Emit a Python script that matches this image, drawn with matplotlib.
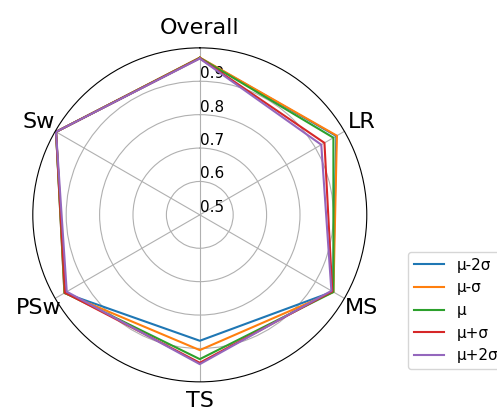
import numpy as np
import matplotlib
matplotlib.use("Agg")
import matplotlib.pyplot as plt

categories = ["Overall", "LR", "MS", "TS", "PSw", "Sw"]
series_names = ["μ-2σ", "μ-σ", "μ", "μ+σ", "μ+2σ"]

mu_minus_2sigma = [0.970, 0.972, 0.960, 0.877, 0.968, 0.997]
mu_minus_sigma = [0.971, 0.974, 0.962, 0.905, 0.968, 0.997]
mu = [0.970, 0.962, 0.962, 0.932, 0.967, 0.997]
mu_plus_sigma = [0.969, 0.931, 0.958, 0.943, 0.966, 0.997]
mu_plus_2sigma = [0.968, 0.920, 0.955, 0.947, 0.960, 0.997]

r_ticks = [0.5, 0.6, 0.7, 0.8, 0.9]
r_tick_labels = ["0.5", "0.6", "0.7", "0.8", "0.9"]

all_series = [mu_minus_2sigma, mu_minus_sigma, mu, mu_plus_sigma, mu_plus_2sigma]

fig = plt.figure(figsize=(4.97, 4.12), dpi=100)
ax = fig.add_subplot(111, polar=True)
ax.set_position([0.066, 0.073, 0.672, 0.811])

angles = np.linspace(0, 2 * np.pi, len(categories), endpoint=False).tolist()
angles_closed = angles + angles[:1]

ax.set_theta_offset(np.pi / 2)
ax.set_theta_direction(-1)

for name, vals in zip(series_names, all_series):
    v = list(vals) + vals[:1]
    ax.plot(angles_closed, v, linewidth=1.5, label=name)

ax.set_xticks(angles)
ax.set_xticklabels(categories, fontsize=16)
ax.set_rlabel_position(0)
ax.set_yticks(r_ticks)
ax.set_yticklabels(r_tick_labels, fontsize=11)
ax.set_ylim(0.5, 1.0)

fig.legend(loc="upper left", bbox_to_anchor=(400 / 497, 1 - 244 / 412),
           fontsize=11)

fig.savefig("out.png", dpi=100)
